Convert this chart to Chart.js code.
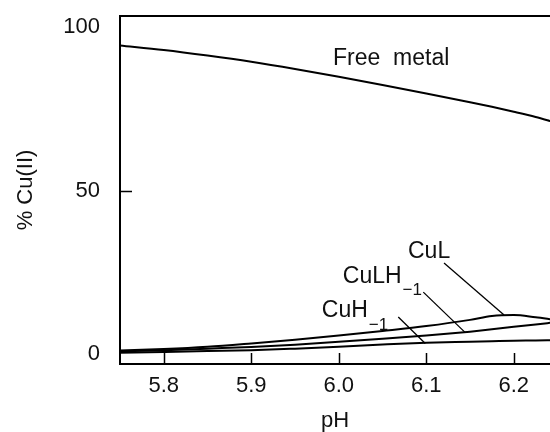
<!DOCTYPE html>
<html>
<head>
<meta charset="utf-8">
<script src="https://cdn.jsdelivr.net/npm/chart.js@4.4.1/dist/chart.umd.min.js"></script>
<style>
  body { margin: 0; background: #fff; }
  #grafico { display: block; }
</style>
</head>
<body>
<canvas id="grafico" width="550" height="432"></canvas>
<script>
// valores
const ph = [5.75, 5.80, 5.85, 5.90, 5.95, 6.00, 6.05, 6.10, 6.15, 6.175, 6.20, 6.225, 6.245];
const freeMetal = [94.5, 93.1, 91.4, 89.5, 87.3, 84.9, 82.4, 79.8, 77.1, 75.7, 74.2, 72.6, 71.1];
const cuL = [1.1, 1.6, 2.3, 3.3, 4.4, 5.7, 7.1, 8.6, 10.5, 11.7, 12.0, 11.3, 10.6];
const cuLH1 = [0.9, 1.2, 1.7, 2.2, 2.9, 3.8, 4.7, 5.7, 6.9, 7.6, 8.4, 9.1, 9.7];
const cuH1 = [0.45, 0.7, 0.95, 1.2, 1.7, 2.3, 2.95, 3.5, 3.8, 3.95, 4.1, 4.2, 4.3];

const xTicks = [5.8, 5.9, 6.0, 6.1, 6.2];
const yTicks = [0, 50, 100];
const yInnerTicks = [50];

// rótulos em coordenadas de dados
const rotulos = [
  { text: 'Free  metal', x: 5.9934, y: 88.5 },
  { text: 'CuL', x: 6.0791, y: 29.3, from: [6.1203, 27.9], to: [6.1889, 12.0] },
  { text: 'CuLH', sub: '\u22121', x: 6.0046, y: 21.9, subY: 18.1, from: [6.0966, 19.0], to: [6.1446, 6.6] },
  { text: 'CuH', sub: '\u22121', x: 5.9806, y: 11.3, subY: 7.5, from: [6.0680, 11.4], to: [6.0989, 3.3] }
];

const pontos = vals => ph.map((p, i) => ({ x: p, y: vals[i] }));

const fonte = "'Liberation Sans', Arial, sans-serif";
Chart.defaults.font.family = fonte;
Chart.defaults.color = '#111';

const serie = vals => ({
  data: pontos(vals),
  borderColor: '#000',
  borderWidth: 2,
  pointRadius: 0,
  fill: false,
  cubicInterpolationMode: 'monotone'
});

const extras = {
  id: 'extras',
  afterDraw(chart) {
    const { ctx, chartArea, scales } = chart;
    const x = scales.x, y = scales.y;
    ctx.save();
    ctx.strokeStyle = '#000';
    ctx.lineWidth = 2;
    ctx.beginPath();
    ctx.moveTo(chartArea.left - 1, chartArea.top);
    ctx.lineTo(chartArea.right, chartArea.top);
    ctx.stroke();

    // marcas para dentro
    ctx.lineWidth = 1.5;
    ctx.beginPath();
    xTicks.forEach(v => {
      const px = Math.round(x.getPixelForValue(v)) + 0.5;
      ctx.moveTo(px, chartArea.bottom);
      ctx.lineTo(px, chartArea.bottom - 11);
    });
    yInnerTicks.forEach(v => {
      const py = Math.round(y.getPixelForValue(v)) + 0.5;
      ctx.moveTo(chartArea.left, py);
      ctx.lineTo(chartArea.left + 12, py);
    });
    ctx.stroke();

    // textos e linhas de chamada
    ctx.fillStyle = '#111';
    ctx.textBaseline = 'alphabetic';
    ctx.textAlign = 'left';
    ctx.lineWidth = 1.3;
    rotulos.forEach(r => {
      const px = x.getPixelForValue(r.x);
      const py = y.getPixelForValue(r.y);
      ctx.font = '23px ' + fonte;
      ctx.fillText(r.text, px, py);
      if (r.sub) {
        const w = ctx.measureText(r.text).width;
        ctx.font = '17px ' + fonte;
        ctx.fillText(r.sub, px + w + 1, y.getPixelForValue(r.subY));
      }
      if (r.from) {
        ctx.beginPath();
        ctx.moveTo(x.getPixelForValue(r.from[0]), y.getPixelForValue(r.from[1]));
        ctx.lineTo(x.getPixelForValue(r.to[0]), y.getPixelForValue(r.to[1]));
        ctx.stroke();
      }
    });
    ctx.restore();
  }
};

new Chart(document.getElementById('grafico').getContext('2d'), {
  type: 'line',
  data: {
    datasets: [serie(freeMetal), serie(cuL), serie(cuLH1), serie(cuH1)]
  },
  options: {
    responsive: false,
    animation: false,
    layout: { padding: { top: 16, left: 0, right: 0, bottom: 0 } },
    plugins: { legend: { display: false }, tooltip: { enabled: false } },
    scales: {
      x: {
        type: 'linear',
        min: 5.75,
        max: 6.2414,
        afterBuildTicks: s => { s.ticks = xTicks.map(v => ({ value: v })); },
        afterFit: s => { s.height = 68; s.paddingLeft = 0; s.paddingRight = 0; },
        grid: { display: false, drawTicks: false },
        border: { display: true, color: '#000', width: 2 },
        ticks: { padding: 9, font: { size: 22 }, callback: v => v.toFixed(1) },
        title: { display: true, text: 'pH', font: { size: 22 }, padding: { top: 0, bottom: -2 } }
      },
      y: {
        min: -3,
        max: 103.5,
        afterBuildTicks: s => { s.ticks = yTicks.map(v => ({ value: v })); },
        afterFit: s => { s.width = 120; s.paddingTop = 0; s.paddingBottom = 0; },
        grid: { display: false, drawTicks: false },
        border: { display: true, color: '#000', width: 2 },
        ticks: { padding: 20, font: { size: 22 } },
        title: { display: true, text: '% Cu(II)', font: { size: 22 }, padding: { top: 13, bottom: 0 } }
      }
    }
  },
  plugins: [extras]
});
</script>
</body>
</html>
